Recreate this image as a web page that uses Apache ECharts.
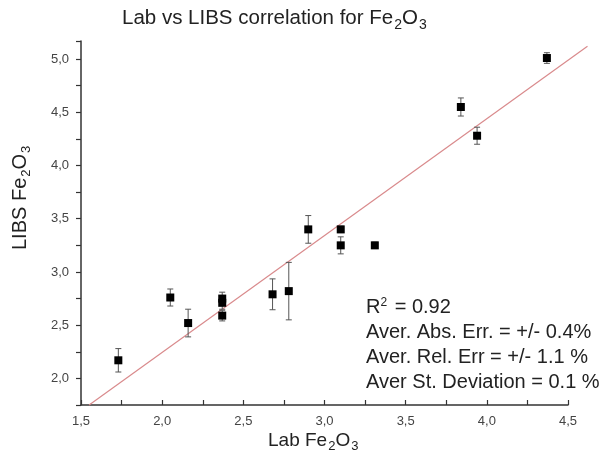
<!DOCTYPE html>
<html>
<head>
<meta charset="utf-8">
<script src="https://cdn.jsdelivr.net/npm/echarts@6/dist/echarts.min.js"></script>
<style>
  html, body { margin: 0; padding: 0; background: #fff; }
  #chart { width: 602px; height: 457px; }
</style>
</head>
<body>
<div id="chart"></div>
<script>
// measured points (Lab value, LIBS value, error bar half height)
const labX = [1.73, 2.05, 2.16, 2.37, 2.37, 2.37, 2.68, 2.78, 2.90, 3.10, 3.10, 3.31, 3.84, 3.94, 4.37]
const libsY = [2.17, 2.76, 2.52, 2.75, 2.71, 2.59, 2.79, 2.82, 3.40, 3.40, 3.25, 3.25, 4.55, 4.28, 5.01]
const errY = [0.11, 0.08, 0.13, 0.06, 0.06, 0.05, 0.145, 0.27, 0.13, 0.03, 0.08, 0.03, 0.085, 0.08, 0.05]

// linear fit line ends
const fitX = [1.55, 4.62]
const fitY = [1.75, 5.12]

const statLines = [
  'R{sup|2} = 0.92',
  'Aver. Abs. Err. = +/- 0.4%',
  'Aver. Rel. Err = +/- 1.1 %',
  'Aver St. Deviation = 0.1 %'
]

const points = labX.map((x, i) => [x, libsY[i]])
const bars = labX.map((x, i) => [x, libsY[i] - errY[i], libsY[i] + errY[i]])
const fitLine = [[fitX[0], fitY[0], fitX[1], fitY[1]]]

const subStyle = { fontSize: 13, padding: [12, 0, 0, 1] }

function commaLabel(v) {
  if (Math.abs(v * 2 - Math.round(v * 2)) > 1e-6) return ''
  return v.toFixed(1).replace('.', ',')
}

const chart = echarts.init(document.getElementById('chart'))

const option = {
  animation: false,
  title: {
    text: 'Lab vs LIBS correlation for Fe{sub|2}O{sub|3}',
    left: 117,
    top: 0,
    textStyle: {
      fontFamily: 'Liberation Sans',
      fontSize: 20.5,
      fontWeight: 'normal',
      color: '#222',
      rich: {
        sub: { fontSize: 14, padding: [13, 0, 0, 1], fontFamily: 'Liberation Sans', color: '#222' }
      }
    }
  },
  grid: { left: 81, right: 34, top: 41, bottom: 52 },
  xAxis: {
    type: 'value',
    min: 1.5,
    max: 4.5,
    interval: 0.25,
    splitLine: { show: false },
    axisLine: { lineStyle: { color: '#333', width: 1.5 } },
    axisTick: { inside: true, length: 5, lineStyle: { color: '#333', width: 1.2 } },
    axisLabel: {
      formatter: commaLabel,
      color: '#444',
      fontSize: 13,
      fontFamily: 'Liberation Sans',
      margin: 10,
      showMinLabel: true,
      showMaxLabel: true
    }
  },
  yAxis: {
    type: 'value',
    min: 1.75,
    max: 5.17,
    interval: 0.25,
    splitLine: { show: false },
    axisLine: { show: true, lineStyle: { color: '#333', width: 1.5 } },
    axisTick: { show: true, length: 5, lineStyle: { color: '#333', width: 1.2 } },
    axisLabel: {
      formatter: commaLabel,
      color: '#444',
      fontSize: 13,
      fontFamily: 'Liberation Sans',
      margin: 12
    }
  },
  graphic: [
    {
      type: 'text',
      left: 268,
      top: 431,
      style: {
        text: 'Lab Fe{sub|2}O{sub|3}',
        font: '19px "Liberation Sans"',
        fill: '#222',
        rich: { sub: subStyle }
      }
    },
    {
      type: 'text',
      x: 8,
      y: 250,
      rotation: Math.PI / 2,
      style: {
        text: 'LIBS Fe{sub|2}O{sub|3}',
        font: '20px "Liberation Sans"',
        fill: '#222',
        rich: { sub: subStyle }
      }
    },
    {
      type: 'text',
      left: 366,
      top: 295,
      style: {
        text: statLines.join('\n'),
        font: '20px "Liberation Sans"',
        fill: '#222',
        lineHeight: 25,
        rich: {
          sup: { fontSize: 12, padding: [0, 2, 10, 0] }
        }
      }
    }
  ],
  series: [
    {
      name: 'fit',
      type: 'custom',
      data: fitLine,
      z: 1,
      renderItem: function(params, api) {
        const a = api.coord([api.value(0), api.value(1)])
        const b = api.coord([api.value(2), api.value(3)])
        return {
          type: 'line',
          shape: { x1: a[0], y1: a[1], x2: b[0], y2: b[1] },
          style: { stroke: '#d98a8c', lineWidth: 1.2 }
        }
      }
    },
    {
      name: 'error',
      type: 'custom',
      data: bars,
      z: 2,
      renderItem: function(params, api) {
        const x = api.value(0)
        const top = api.coord([x, api.value(2)])
        const bot = api.coord([x, api.value(1)])
        const w = 3
        const st = { stroke: '#555', lineWidth: 1 }
        return {
          type: 'group',
          children: [
            { type: 'line', shape: { x1: top[0], y1: top[1], x2: bot[0], y2: bot[1] }, style: st },
            { type: 'line', shape: { x1: top[0] - w, y1: top[1], x2: top[0] + w, y2: top[1] }, style: st },
            { type: 'line', shape: { x1: bot[0] - w, y1: bot[1], x2: bot[0] + w, y2: bot[1] }, style: st }
          ]
        }
      }
    },
    {
      name: 'LIBS',
      type: 'scatter',
      data: points,
      symbol: 'rect',
      symbolSize: 8,
      itemStyle: { color: '#000', opacity: 1 },
      z: 3
    }
  ]
}

chart.setOption(option)
</script>
</body>
</html>
